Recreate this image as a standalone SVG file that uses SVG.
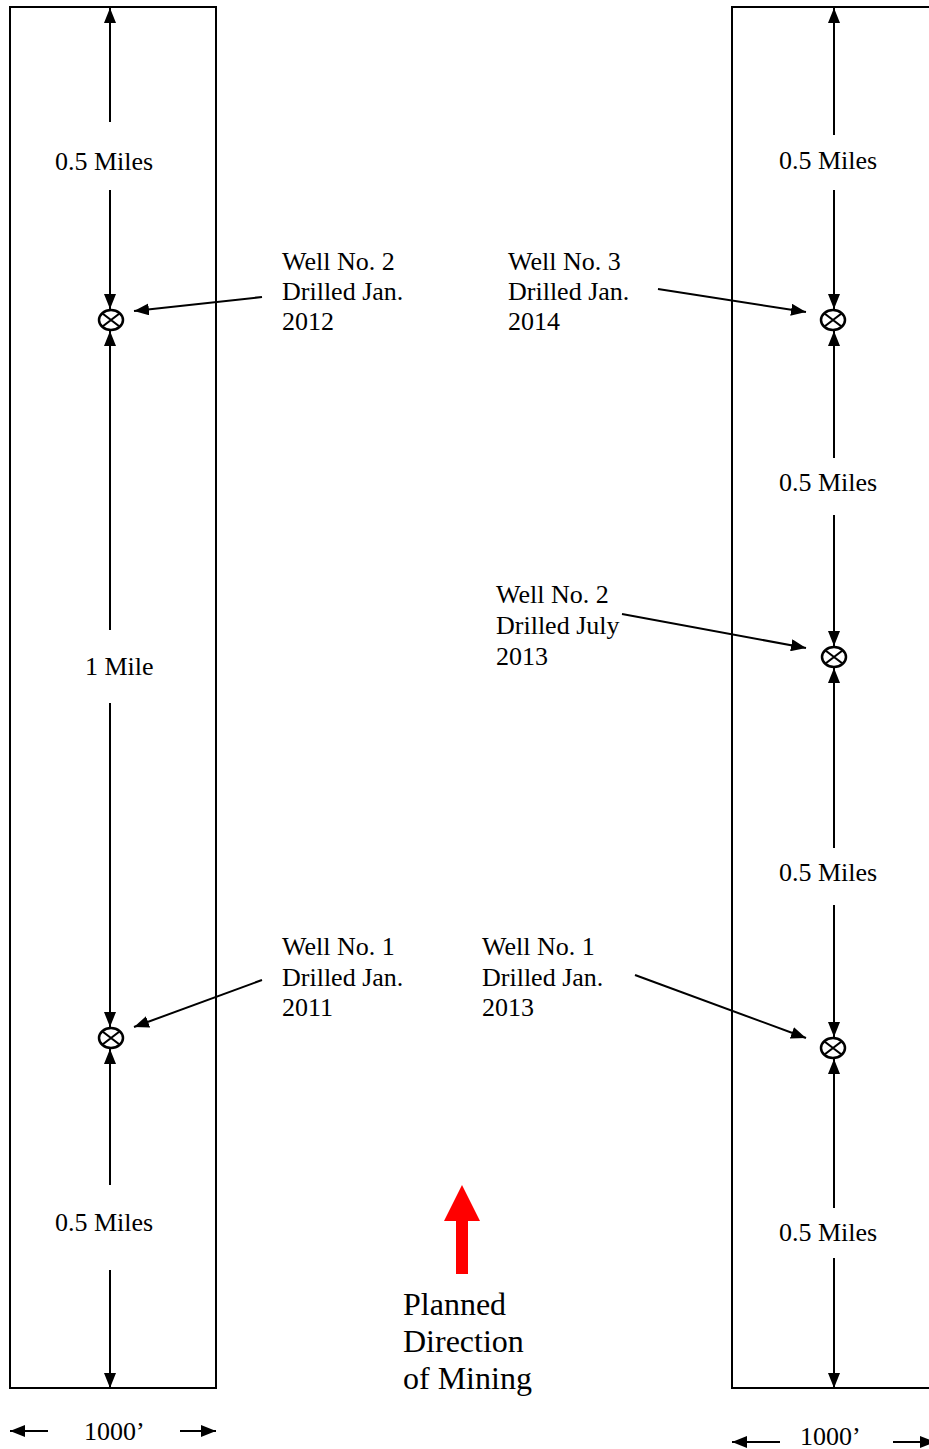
<svg xmlns="http://www.w3.org/2000/svg" width="929" height="1449" viewBox="0 0 929 1449">
<style>
.t{font-family:"Liberation Serif","Times New Roman",serif;font-size:26px;fill:#000}
.big{font-size:32px}
.ln{stroke:#000;stroke-width:2;fill:none}
.box{stroke:#000;stroke-width:2;fill:none}
.well{stroke:#000;stroke-width:2.5;fill:#fff}
.x{stroke:#000;stroke-width:2.2;fill:none}
</style>
<defs>
<marker id="ah" markerUnits="userSpaceOnUse" markerWidth="15" markerHeight="12" refX="15" refY="6" orient="auto">
<path d="M0,0 L15,6 L0,12 z" fill="#000"/>
</marker>
</defs>
<g id="panel-left"><rect class="box" x="10" y="7" width="206" height="1381"/></g>
<g id="panel-right"><rect class="box" x="732" y="7" width="220" height="1381"/></g>

<g id="connectors">
<line class="ln" x1="110" y1="122" x2="110" y2="8" marker-end="url(#ah)"/>
<line class="ln" x1="110" y1="190" x2="110" y2="309" marker-end="url(#ah)"/>
<line class="ln" x1="110" y1="630" x2="110" y2="331" marker-end="url(#ah)"/>
<line class="ln" x1="110" y1="703" x2="110" y2="1027" marker-end="url(#ah)"/>
<line class="ln" x1="110" y1="1185" x2="110" y2="1049" marker-end="url(#ah)"/>
<line class="ln" x1="110" y1="1270" x2="110" y2="1388" marker-end="url(#ah)"/>
<line class="ln" x1="834" y1="135" x2="834" y2="8" marker-end="url(#ah)"/>
<line class="ln" x1="834" y1="190" x2="834" y2="309" marker-end="url(#ah)"/>
<line class="ln" x1="834" y1="458" x2="834" y2="331" marker-end="url(#ah)"/>
<line class="ln" x1="834" y1="515" x2="834" y2="646" marker-end="url(#ah)"/>
<line class="ln" x1="834" y1="848" x2="834" y2="668" marker-end="url(#ah)"/>
<line class="ln" x1="834" y1="905" x2="834" y2="1037" marker-end="url(#ah)"/>
<line class="ln" x1="834" y1="1208" x2="834" y2="1059" marker-end="url(#ah)"/>
<line class="ln" x1="834" y1="1258" x2="834" y2="1388" marker-end="url(#ah)"/>
<line class="ln" x1="262" y1="297" x2="134" y2="311" marker-end="url(#ah)"/>
<line class="ln" x1="658" y1="289" x2="806" y2="312" marker-end="url(#ah)"/>
<line class="ln" x1="622" y1="614" x2="806" y2="648" marker-end="url(#ah)"/>
<line class="ln" x1="262" y1="980" x2="134" y2="1027" marker-end="url(#ah)"/>
<line class="ln" x1="635" y1="975" x2="806" y2="1038" marker-end="url(#ah)"/>
<line class="ln" x1="48" y1="1431" x2="10" y2="1431" marker-end="url(#ah)"/>
<line class="ln" x1="180" y1="1431" x2="216" y2="1431" marker-end="url(#ah)"/>
<line class="ln" x1="780" y1="1442" x2="732" y2="1442" marker-end="url(#ah)"/>
<line class="ln" x1="893" y1="1442" x2="935" y2="1442" marker-end="url(#ah)"/>
</g>

<g id="well-left-2"><ellipse class="well" cx="111" cy="320" rx="12" ry="10"/><path class="x" d="M102.5,313.5 L119.5,326.5 M119.5,313.5 L102.5,326.5"/></g>
<g id="well-left-1"><ellipse class="well" cx="111" cy="1038" rx="12" ry="10"/><path class="x" d="M102.5,1031.5 L119.5,1044.5 M119.5,1031.5 L102.5,1044.5"/></g>
<g id="well-right-3"><ellipse class="well" cx="833" cy="320" rx="12" ry="10"/><path class="x" d="M824.5,313.5 L841.5,326.5 M841.5,313.5 L824.5,326.5"/></g>
<g id="well-right-2"><ellipse class="well" cx="834" cy="657" rx="12" ry="10"/><path class="x" d="M825.5,650.5 L842.5,663.5 M842.5,650.5 L825.5,663.5"/></g>
<g id="well-right-1"><ellipse class="well" cx="833" cy="1048" rx="12" ry="10"/><path class="x" d="M824.5,1041.5 L841.5,1054.5 M841.5,1041.5 L824.5,1054.5"/></g>

<g id="labels">
<text class="t" x="55" y="170">0.5 Miles</text>
<text class="t" x="85" y="675">1 Mile</text>
<text class="t" x="55" y="1231">0.5 Miles</text>
<text class="t" x="779" y="169">0.5 Miles</text>
<text class="t" x="779" y="491">0.5 Miles</text>
<text class="t" x="779" y="881">0.5 Miles</text>
<text class="t" x="779" y="1241">0.5 Miles</text>
<text class="t" x="84" y="1440">1000’</text>
<text class="t" x="800" y="1445">1000’</text>
</g>
<g id="label-well-left-2"><text class="t" x="282" y="270">Well No. 2</text><text class="t" x="282" y="300">Drilled Jan.</text><text class="t" x="282" y="330">2012</text></g>
<g id="label-well-right-3"><text class="t" x="508" y="270">Well No. 3</text><text class="t" x="508" y="300">Drilled Jan.</text><text class="t" x="508" y="330">2014</text></g>
<g id="label-well-right-2"><text class="t" x="496" y="603">Well No. 2</text><text class="t" x="496" y="634">Drilled July</text><text class="t" x="496" y="665">2013</text></g>
<g id="label-well-left-1"><text class="t" x="282" y="955">Well No. 1</text><text class="t" x="282" y="986">Drilled Jan.</text><text class="t" x="282" y="1016">2011</text></g>
<g id="label-well-right-1"><text class="t" x="482" y="955">Well No. 1</text><text class="t" x="482" y="986">Drilled Jan.</text><text class="t" x="482" y="1016">2013</text></g>

<g id="mining-direction">
<path d="M462,1185 L480,1221 L468,1221 L468,1274 L456,1274 L456,1221 L444,1221 z" fill="#ff0000"/>
<text class="t big" x="403" y="1315">Planned</text>
<text class="t big" x="403" y="1352">Direction</text>
<text class="t big" x="403" y="1389">of Mining</text>
</g>
</svg>
